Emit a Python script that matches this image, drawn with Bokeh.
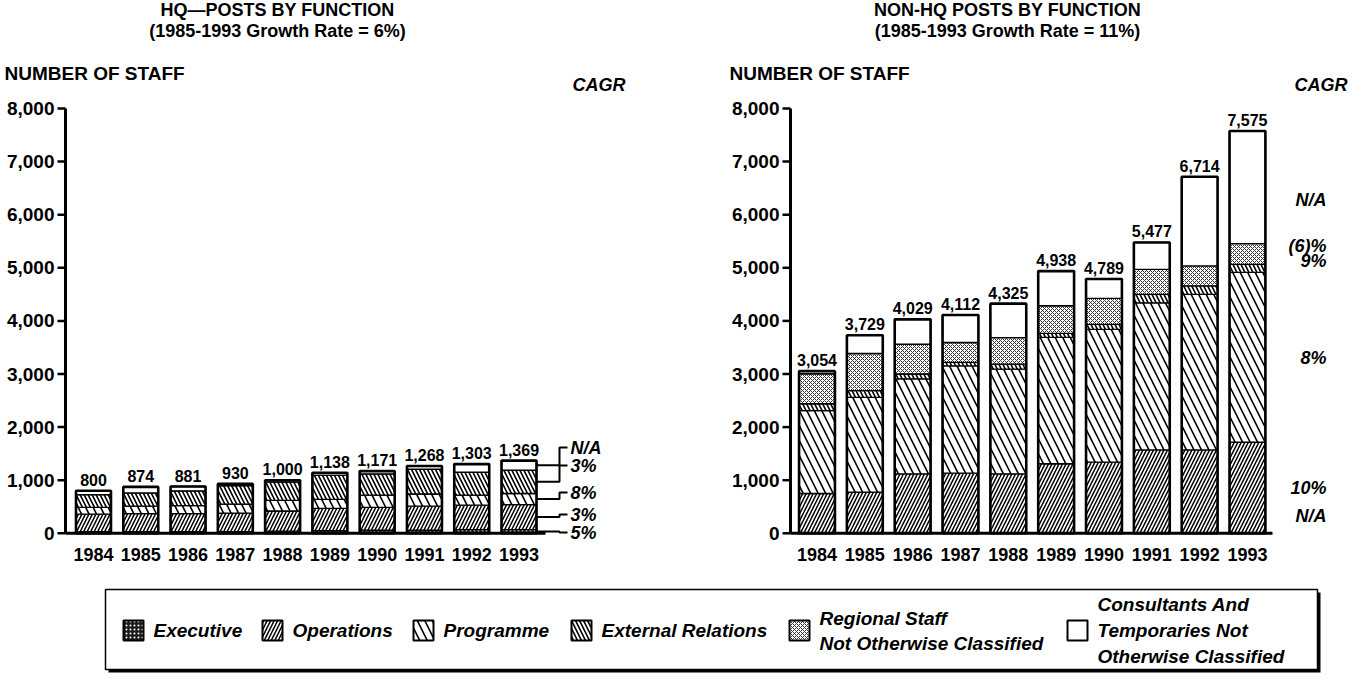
from bokeh.plotting import figure
from bokeh.models import Range1d, ColumnDataSource
from bokeh.layouts import column, row
from bokeh.transform import stack
from bokeh.core.properties import value
from bokeh.embed import file_html
from bokeh.resources import INLINE

# ---------------- data ----------------
years = ["1984", "1985", "1986", "1987", "1988", "1989", "1990", "1991", "1992", "1993"]
cat_keys = ["executive", "operations", "programme", "external", "regional", "consultants"]
legend_lines = [["Executive"], ["Operations"], ["Programme"], ["External Relations"],
                ["Regional Staff", "Not Otherwise Classified"],
                ["Consultants And", "Temporaries Not", "Otherwise Classified"]]

hq_executive = [30, 30, 30, 30, 40, 50, 60, 60, 70, 70]
hq_operations = [330, 340, 340, 350, 380, 420, 430, 450, 460, 470]
hq_programme = [130, 140, 150, 170, 200, 170, 230, 230, 190, 210]
hq_external = [240, 250, 280, 350, 350, 450, 400, 470, 430, 440]
hq_regional = [0, 0, 0, 0, 0, 0, 0, 0, 0, 0]
hq_consultants = [70, 114, 81, 30, 30, 48, 51, 58, 153, 179]
hq_totals = [800, 874, 881, 930, 1000, 1138, 1171, 1268, 1303, 1369]
hq_cagr = ["5%", "3%", "8%", "3%", "", "N/A"]

nonhq_executive = [0, 0, 0, 0, 0, 0, 0, 0, 0, 0]
nonhq_operations = [750, 776, 1120, 1133, 1120, 1310, 1340, 1570, 1570, 1715]
nonhq_programme = [1560, 1784, 1790, 2020, 1970, 2380, 2500, 2770, 2930, 3200]
nonhq_external = [130, 126, 90, 65, 95, 75, 95, 160, 160, 150]
nonhq_regional = [565, 700, 560, 375, 500, 520, 490, 470, 375, 390]
nonhq_consultants = [49, 343, 469, 519, 640, 653, 364, 507, 1679, 2120]
nonhq_totals = [3054, 3729, 4029, 4112, 4325, 4938, 4789, 5477, 6714, 7575]
nonhq_cagr = ["N/A", "10%", "8%", "9%", "(6)%", "N/A"]

y_ticks = [0, 1000, 2000, 3000, 4000, 5000, 6000, 7000, 8000]

# ---------------- styles ----------------
FONT = "Liberation Sans"
STYLE = {
    "executive": dict(fill_color="#1c1c1c", hatch_pattern=".", hatch_color="white", hatch_scale=4, hatch_weight=1),
    "operations": dict(fill_color="white", hatch_pattern="/", hatch_color="black", hatch_scale=7, hatch_weight=1.5),
    "programme": dict(fill_color="white", hatch_pattern="\\", hatch_color="black", hatch_scale=15, hatch_weight=1.6),
    "external": dict(fill_color="black", hatch_pattern="\\", hatch_color="white", hatch_scale=8, hatch_weight=2),
    "regional": dict(fill_color="white", hatch_pattern="x", hatch_color="#333333", hatch_scale=4, hatch_weight=1),
    "consultants": dict(fill_color="white"),
}

PAGE_TOP = 8
FIG_H = 575
Y_TOP_PX = 116.0      # page y of 8000
Y_ZERO_PX = 540.8     # page y of 0
PPU_Y = (Y_ZERO_PX - Y_TOP_PX) / 8000.0


def Y(py):
    return (Y_ZERO_PX - py) / PPU_Y


def txt(p, x, y, text, size, style="bold", align="left"):
    p.text(x=[x], y=[y], text=[text], text_align=align, text_baseline="middle",
           text_font=value(FONT), text_font_style=style, text_font_size=size,
           text_color="black")


def make_chart(page_left, width, axis_px, x_start, ppu_x, bar_w,
               series, totals, cagr, title1, title2, title_cx, cagr_header, cagr_pos,
               brackets, baseline_end_px):
    def X(px):
        return x_start + (px - axis_px) / ppu_x

    p = figure(width=width, height=FIG_H, output_backend="svg", toolbar_location=None,
               min_border=0, x_axis_type=None, y_axis_type=None,
               x_range=Range1d(X(page_left), X(page_left + width)),
               y_range=Range1d(Y(PAGE_TOP + FIG_H), Y(PAGE_TOP)))
    p.outline_line_color = None
    p.grid.visible = False
    p.background_fill_color = "white"

    data = dict(x=list(range(len(years))), year=years, label=[f"{t:,}" for t in totals],
                ylab=[Y(562)] * len(years))
    for k, vals in zip(cat_keys, series):
        data[k] = vals
    src = ColumnDataSource(data)

    for i, k in enumerate(cat_keys):
        p.vbar(x="x", width=bar_w, bottom=stack(*cat_keys[:i]) if i else 0,
               top=stack(*cat_keys[:i + 1]), source=src,
               line_color="black", line_width=1.3, **STYLE[k])
    p.vbar(x="x", width=bar_w, bottom=0, top=stack(*cat_keys), source=src,
           fill_color=None, line_color="black", line_width=2.6)

    p.text(x="x", y=stack(*cat_keys), text="label", source=src, text_align="center",
           text_baseline="bottom", y_offset=-5, text_font=value(FONT),
           text_font_style="bold", text_font_size="16px", text_color="black")

    # category axis: year labels
    p.text(x="x", y="ylab", text="year", source=src, text_align="center",
           text_baseline="middle", text_font=value(FONT), text_font_style="bold",
           text_font_size="18px", text_color="black")

    # baseline
    p.segment(x0=[X(axis_px)], y0=[0], x1=[X(baseline_end_px)], y1=[0],
              line_color="black", line_width=3)

    # value axis: line, ticks, labels
    tsrc = ColumnDataSource(dict(y=y_ticks, label=[f"{t:,}" for t in y_ticks]))
    p.segment(x0=[X(axis_px)], y0=[0], x1=[X(axis_px)], y1=[max(y_ticks)],
              line_color="black", line_width=3)
    p.segment(x0=X(axis_px - 8), y0="y", x1=X(axis_px), y1="y", source=tsrc,
              line_color="black", line_width=2.5)
    p.text(x=X(axis_px - 11), y="y", text="label", source=tsrc, text_align="right",
           text_baseline="middle", text_font=value(FONT), text_font_style="bold",
           text_font_size="19px", text_color="black")

    # titles
    txt(p, X(title_cx), Y(17), title1, "18px", align="center")
    txt(p, X(title_cx), Y(38), title2, "18px", align="center")
    txt(p, X(axis_px - 61), Y(81), "NUMBER OF STAFF", "19px")
    hx, halign = cagr_header
    txt(p, X(hx), Y(92), "CAGR", "18px", style="bold italic", align=halign)

    # CAGR labels
    lx, lalign, lys = cagr_pos
    last = len(years) - 1
    cum = 0
    for i, k in enumerate(cat_keys):
        v = series[i][last]
        mid = cum + v / 2.0
        cum += v
        if not cagr[i]:
            continue
        ly = Y(lys[i])
        txt(p, X(lx), ly, cagr[i], "18px", style="bold italic", align=lalign)
        if brackets:
            bx0 = last + bar_w / 2.0
            p.line(x=[bx0, X(567), X(567), X(575)], y=[mid, mid, ly, ly],
                   line_color="black", line_width=2)
    return p


hq_series = [hq_executive, hq_operations, hq_programme, hq_external, hq_regional, hq_consultants]
nonhq_series = [nonhq_executive, nonhq_operations, nonhq_programme, nonhq_external,
                nonhq_regional, nonhq_consultants]

p1 = make_chart(page_left=8, width=672, axis_px=73, x_start=-0.592,
                ppu_x=47.28, bar_w=0.74, series=hq_series, totals=hq_totals, cagr=hq_cagr,
                title1="HQ\u2014POSTS BY FUNCTION", title2="(1985-1993 Growth Rate = 6%)",
                title_cx=285, cagr_header=(580, "left"),
                cagr_pos=(578, "left", [540, 522, 500, 473, None, 455]),
                brackets=True, baseline_end_px=553)

p2 = make_chart(page_left=680, width=677, axis_px=798, x_start=-0.554,
                ppu_x=47.83, bar_w=0.75, series=nonhq_series, totals=nonhq_totals,
                cagr=nonhq_cagr,
                title1="NON-HQ POSTS BY FUNCTION", title2="(1985-1993 Growth Rate = 11%)",
                title_cx=1015, cagr_header=(1355, "right"),
                cagr_pos=(1334, "right", [523, 495, 365, 268, 253, 207]),
                brackets=False, baseline_end_px=1280)

# ---------------- legend ----------------
LEG_TOP = PAGE_TOP + FIG_H
LEG_H = 98
pl = figure(width=1349, height=LEG_H, output_backend="svg", toolbar_location=None,
            x_range=Range1d(8, 1357), y_range=Range1d(LEG_TOP + LEG_H, LEG_TOP),
            x_axis_type=None, y_axis_type=None, min_border=0)
pl.outline_line_color = None
pl.grid.visible = False

# shadow + box
pl.quad(left=[116], right=[1328], top=[600], bottom=[680], fill_color="black", line_color=None)
pl.quad(left=[113], right=[1325], top=[597], bottom=[677], fill_color="white",
        line_color="black", line_width=1.5)

icon_x = [131, 270, 421, 579, 797, 1075]
icon_size = 20
icon_cy = 638
for k, ix, lines in zip(cat_keys, icon_x, legend_lines):
    pl.quad(left=[ix], right=[ix + icon_size], top=[icon_cy - icon_size / 2],
            bottom=[icon_cy + icon_size / 2], line_color="black", line_width=2, **STYLE[k])
    n = len(lines)
    spacing = 26 if n == 3 else 25
    for j, ln in enumerate(lines):
        ty = icon_cy + (j - (n - 1) / 2.0) * spacing
        pl.text(x=[ix + icon_size + 10], y=[ty], text=[ln], text_align="left",
                text_baseline="middle", text_font=value(FONT), text_font_style="bold italic",
                text_font_size="19px", text_color="black")

layout = column(row(p1, p2), pl)
open("out.html", "w").write(file_html(layout, INLINE))
